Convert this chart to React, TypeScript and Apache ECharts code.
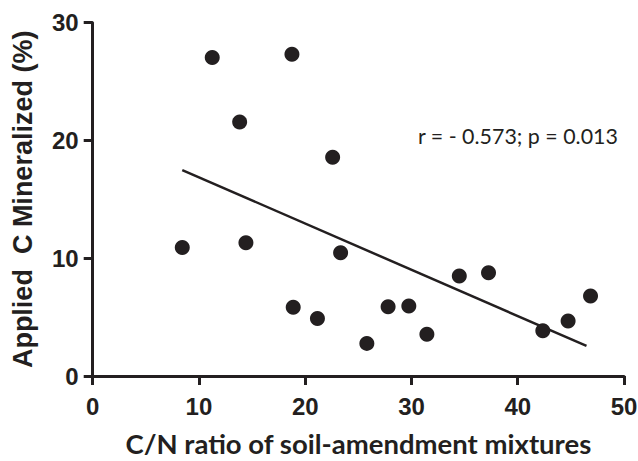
import React, { useEffect, useRef } from "react";
import * as echarts from "echarts";

const cnRatio = [8.43, 11.25, 13.83, 14.42, 18.75, 18.87, 21.15, 22.58, 23.33, 25.8, 27.8, 29.75, 31.45, 34.5, 37.25, 42.36, 44.74, 46.85];
const cMineralized = [10.92, 27.05, 21.56, 11.32, 27.33, 5.83, 4.88, 18.57, 10.47, 2.77, 5.88, 5.94, 3.54, 8.49, 8.77, 3.85, 4.67, 6.79];
const fitX = [8.43, 46.47];
const fitY = [17.49, 2.55];
const xTicks = [0, 10, 20, 30, 40, 50];
const yTicks = [0, 10, 20, 30];
const annotation = "r = - 0.573; p = 0.013";
const xTitle = "C/N ratio of soil-amendment mixtures";
const yTitle = "Applied  C Mineralized (%)";

export default function App() {
  const ref = useRef<HTMLDivElement>(null);
  useEffect(() => {
    if (!ref.current) return;
    const chart = echarts.init(ref.current, null, { renderer: "svg" });
    const ink = "#231f20";
    chart.setOption({
      animation: false,
      backgroundColor: "#ffffff",
      grid: { left: 92.7, right: 14, top: 22.7, bottom: 85, containLabel: false, outerBoundsMode: "none" },
      xAxis: {
        type: "value",
        min: xTicks[0],
        max: xTicks[xTicks.length - 1],
        interval: 10,
        name: xTitle,
        nameLocation: "middle",
        nameGap: 54,
        nameTextStyle: { fontFamily: "Lato", fontWeight: "bold", fontSize: 27.5, lineHeight: 26, color: ink },
        axisLine: { show: true, onZero: false, lineStyle: { color: ink, width: 3 } },
        axisTick: { show: true, inside: false, length: 9, lineStyle: { color: ink, width: 3 } },
        axisLabel: { margin: 18, fontFamily: "Liberation Sans", fontWeight: "bold", fontSize: 24, color: ink },
        splitLine: { show: false },
      },
      yAxis: {
        type: "value",
        min: yTicks[0],
        max: yTicks[yTicks.length - 1],
        interval: 10,
        name: yTitle,
        nameLocation: "middle",
        nameGap: 56,
        nameTextStyle: { fontFamily: "Liberation Sans", fontWeight: "bold", fontSize: 27, color: ink },
        axisLine: { show: true, onZero: false, lineStyle: { color: ink, width: 3 } },
        axisTick: { show: true, inside: false, length: 9, lineStyle: { color: ink, width: 3 } },
        axisLabel: { margin: 14, fontFamily: "Liberation Sans", fontWeight: "bold", fontSize: 24, color: ink },
        splitLine: { show: false },
      },
      graphic: [
        {
          type: "text",
          left: 418,
          top: 125,
          style: { text: annotation, fontFamily: "Lato", fontSize: 21.4, fill: ink },
        },
      ],
      series: [
        {
          type: "line",
          data: fitX.map((x, i) => [x, fitY[i]]),
          symbol: "none",
          lineStyle: { color: ink, width: 2.5 },
          silent: true,
          z: 2,
        },
        {
          type: "scatter",
          data: cnRatio.map((x, i) => [x, cMineralized[i]]),
          symbol: "circle",
          symbolSize: 15,
          itemStyle: { color: ink, opacity: 1 },
          z: 3,
        },
      ],
    });
    return () => chart.dispose();
  }, []);
  return (
    <div
      ref={ref}
      style={{ position: "fixed", left: 0, top: 0, width: 638, height: 461, background: "#fff" }}
    />
  );
}
